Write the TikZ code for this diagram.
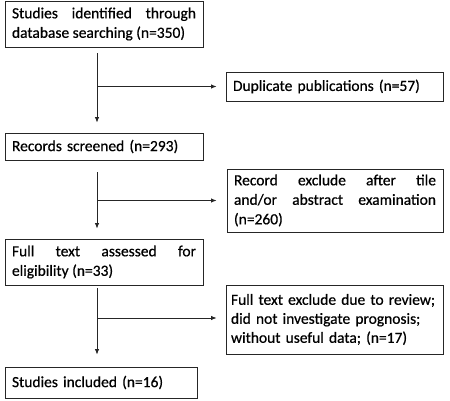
\documentclass[tikz,border=0pt]{standalone}
\usepackage{fontspec}
\setmainfont{Carlito}[FakeBold=0.6]
\usetikzlibrary{arrows.meta}
\begin{document}
\begin{tikzpicture}[x=1pt,y=-1pt,
  box/.style={draw=black!85, line width=0.9pt, inner xsep=7pt, inner ysep=0pt,
    font=\fontsize{15.5}{19.5}\selectfont, align=justify, anchor=center},
  arr/.style={draw=black!85, line width=0.8pt, -{Latex[length=5.5pt,width=4.5pt]}}]
\useasboundingbox (0,0) rectangle (450,401);
\node[box, minimum width=198pt, minimum height=46pt, text width=184pt] (b1) at (104,24)
  {Studies identified through\linebreak database searching (n=350)};
\node[box, minimum width=217pt, minimum height=29pt, text width=203pt, align=left] (dup) at (334.5,86.5)
  {Duplicate publications (n=57)};
\node[box, minimum width=198pt, minimum height=27pt, text width=184pt, align=left] (b2) at (104,146.5)
  {Records screened (n=293)};
\node[box, minimum width=216pt, minimum height=63pt, text width=202pt] (rec) at (335,200.5)
  {Record exclude after tile\linebreak and/or abstract examination\linebreak (n=260)};
\node[box, minimum width=198pt, minimum height=46pt, text width=184pt] (b3) at (104,262)
  {Full text assessed for\linebreak eligibility (n=33)};
\node[box, minimum width=217pt, minimum height=69pt, text width=207pt, inner xsep=5pt, align=left,
  font=\fontsize{15.5}{19}\selectfont] (ft) at (334.5,319.5)
  {\mbox{Full text exclude due to review;}\\ \mbox{did not investigate prognosis;}\\ \mbox{without useful data; (n=17)}};
\node[box, minimum width=192pt, minimum height=31pt, text width=178pt, align=left] (b4) at (101,382.5)
  {Studies included (n=16)};
\coordinate (spine) at (97,0);
\draw[arr, shorten <=6pt, shorten >=10pt] (spine |- b1.south) -- (spine |- b2.north);
\draw[arr, shorten >=9pt] (spine |- dup.west) -- (dup.west);
\draw[arr, shorten <=12pt, shorten >=10pt] (spine |- b2.south) -- (spine |- b3.north);
\draw[arr, shorten >=10pt] (spine |- rec.west) -- (rec.west);
\draw[arr, shorten <=3pt, shorten >=12pt] (spine |- b3.south) -- (spine |- b4.north);
\draw[arr, shorten >=9pt] ([yshift=1.5pt]spine |- ft.west) -- ([yshift=1.5pt]ft.west);
\end{tikzpicture}
\end{document}
